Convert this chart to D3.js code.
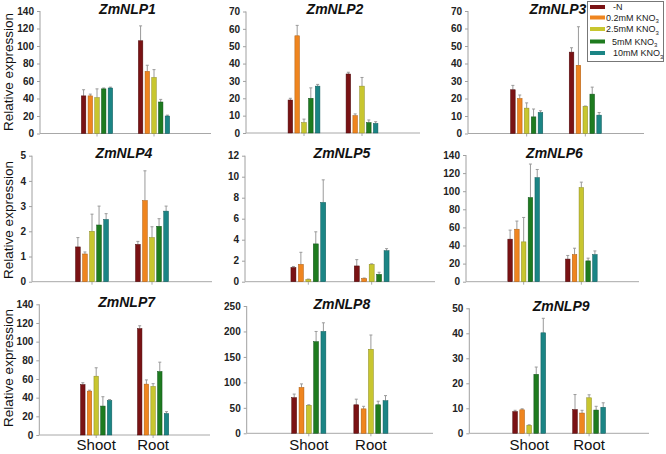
<!DOCTYPE html>
<html><head><meta charset="utf-8">
<script src="https://cdn.jsdelivr.net/npm/d3@7"></script>
<style>body{margin:0;background:#fff}svg{display:block}</style>
</head><body>
<svg id="c" width="666" height="454"></svg>
<script>
// ---- data ----
const categories = ["Shoot", "Root"];
const seriesNames = ["-N", "0.2mM KNO", "2.5mM KNO", "5mM KNO", "10mM KNO"];
const seriesSub = ["", "3", "3", "3", "3"];
const genes = ["ZmNLP1","ZmNLP2","ZmNLP3","ZmNLP4","ZmNLP5","ZmNLP6","ZmNLP7","ZmNLP8","ZmNLP9"];
const yMaxes = [140, 70, 70, 5, 12, 140, 140, 250, 50];
const ySteps = [20, 10, 10, 1, 2, 20, 20, 50, 10];
const shootMean = [
  [43, 43, 41, 51, 52],
  [19, 56, 6, 20, 27],
  [25, 20, 14.5, 9.5, 12],
  [1.38, 1.1, 2.0, 2.25, 2.47],
  [1.35, 1.65, 0.2, 3.6, 7.55],
  [47, 58, 44, 93, 115],
  [54, 47, 63, 31, 37],
  [70, 90, 55, 180, 200],
  [8.7, 9.4, 3.2, 23.6, 40.2]
];
const shootErr = [
  [7, 2, 10, 1, 1],
  [1, 6, 2, 6, 1],
  [2.5, 2, 3, 4.5, 1],
  [0.37, 0.08, 0.68, 0.75, 0.23],
  [0.1, 1.15, 0.05, 1.15, 2.15],
  [10, 9, 27, 37, 9],
  [2, 1, 9, 10, 1],
  [7, 7, 1, 20, 17],
  [0.5, 0.4, 0.2, 2.9, 5.8]
];
const rootMean = [
  [106, 71, 64, 36, 20],
  [34, 10, 27, 6, 5.5],
  [46.5, 39, 15.5, 22.5, 10.5],
  [1.48, 3.22, 1.75, 2.2, 2.8],
  [1.5, 0.3, 1.65, 0.7, 2.95],
  [25, 30, 104, 23, 30],
  [114, 54.5, 52, 68, 23],
  [56, 48, 165, 56, 64],
  [9.5, 8.1, 14.2, 9.3, 10.4]
];
const rootErr = [
  [17, 7, 9, 3, 1],
  [1, 1, 5, 1.5, 1],
  [2.5, 22, 0.2, 4, 1.5],
  [0.12, 1.18, 0.43, 0.3, 0.2],
  [0.6, 0.05, 0.05, 0.2, 0.2],
  [4, 7, 6, 3, 4],
  [3, 4.5, 3, 10, 2],
  [11, 5, 28, 7, 10],
  [6, 1.1, 1.2, 1.5, 1.8]
];
const colors = ["#7a1214", "#ef851f", "#c8c62f", "#1e7b1f", "#1b8585"];
const strokes = ["#4a0a0b", "#a95a10", "#8a8820", "#10501a", "#0f5858"];

// ---- layout (pixel boxes of plot areas) ----
const boxes = [
  {x0: 40, x1: 211, yT: 11, yB: 133.5},
  {x0: 246, x1: 420, yT: 11.5, yB: 133},
  {x0: 468, x1: 644, yT: 11, yB: 133.5},
  {x0: 32, x1: 212, yT: 155.7, yB: 281.7},
  {x0: 245, x1: 435, yT: 155.7, yB: 281.7},
  {x0: 466, x1: 639, yT: 155, yB: 281.7},
  {x0: 39.3, x1: 210, yT: 304.3, yB: 435},
  {x0: 246.7, x1: 433, yT: 306, yB: 433.3},
  {x0: 469.3, x1: 649, yT: 308.3, yB: 433.3}
];

const svg = d3.select("#c");
const font = "Arial, 'Liberation Sans', sans-serif";

genes.forEach((g, i) => {
  const b = boxes[i];
  const w = b.x1 - b.x0;
  const gP = svg.append("g");
  const y = d3.scaleLinear().domain([0, yMaxes[i]]).range([b.yB, b.yT]);
  const x = d3.scaleBand().domain(categories).range([b.x0, b.x1]).paddingInner(0).paddingOuter(0.5);
  const half = w * 0.098;
  const xs = d3.scaleBand().domain(d3.range(5)).range([-half, half]).paddingInner(0.33).paddingOuter(0.165);

  // y axis
  const ax = d3.axisLeft(y).tickValues(d3.range(0, yMaxes[i] + ySteps[i] / 2, ySteps[i]))
    .tickSize(3).tickPadding(3).tickFormat(d3.format("d"));
  const ya = gP.append("g").attr("transform", `translate(${b.x0},0)`).call(ax);
  ya.select(".domain").attr("stroke", "#a0a0a0").attr("d", `M-0.5,${b.yB}V${b.yT}`).attr("transform","translate(0.5,0)");
  ya.selectAll(".tick line").attr("stroke", "#a0a0a0");
  ya.selectAll(".tick text").attr("font-family", font).attr("font-size", 10)
    .attr("font-weight", "bold").attr("fill", "#222");

  // x axis
  const xa = gP.append("g").attr("transform", `translate(0,${b.yB})`)
    .call(d3.axisBottom(x).tickSize(3).tickFormat(""));
  xa.select(".domain").attr("stroke", "#a8a8a8").attr("d", `M${b.x0},0H${b.x1}`);
  xa.selectAll(".tick line").attr("stroke", "#a8a8a8");

  // bars
  const rows = [];
  categories.forEach((c, ci) => {
    const mean = ci === 0 ? shootMean[i] : rootMean[i];
    const err = ci === 0 ? shootErr[i] : rootErr[i];
    mean.forEach((v, si) => rows.push({c, si, v, e: err[si]}));
  });
  const cx = d => x(d.c) + x.bandwidth() / 2 + xs(d.si);
  // error bars
  const eg = gP.append("g").attr("stroke", "#9a9a9a").attr("stroke-width", 1);
  rows.forEach(d => {
    const xm = cx(d) + xs.bandwidth() / 2;
    eg.append("line").attr("x1", xm).attr("x2", xm).attr("y1", y(d.v)).attr("y2", y(d.v + d.e));
    eg.append("line").attr("x1", xm - 1.5).attr("x2", xm + 1.5).attr("y1", y(d.v + d.e)).attr("y2", y(d.v + d.e));
  });
  gP.append("g").selectAll("rect").data(rows).join("rect")
    .attr("x", d => cx(d)).attr("width", xs.bandwidth())
    .attr("y", d => y(d.v)).attr("height", d => b.yB - y(d.v))
    .attr("fill", d => colors[d.si]).attr("stroke", d => strokes[d.si]).attr("stroke-width", 0.5);

  // title
  gP.append("text").attr("x", (b.x0 + b.x1) / 2 + 2).attr("y", b.yT + 2.5)
    .attr("text-anchor", "middle").attr("font-family", font).attr("font-size", 14)
    .attr("font-weight", "bold").attr("font-style", "italic").attr("fill", "#111").text(g);

  // category labels in bottom row
  if (i >= 6) {
    categories.forEach(c => {
      gP.append("text").attr("x", x(c) + x.bandwidth() / 2).attr("y", 450)
        .attr("text-anchor", "middle").attr("font-family", font).attr("font-size", 15)
        .attr("fill", "#111").text(c);
    });
  }
});

// y labels
[72, 220, 368].forEach(cy => {
  svg.append("text").attr("transform", `translate(12.5,${cy}) rotate(-90)`)
    .attr("text-anchor", "middle").attr("font-family", font).attr("font-size", 13.5)
    .attr("fill", "#111").text("Relative expression");
});

// legend
const lg = svg.append("g");
lg.append("rect").attr("x", 587.5).attr("y", 1.5).attr("width", 76).attr("height", 60)
  .attr("fill", "#fff").attr("stroke", "#777").attr("stroke-width", 1);
const legY = [7, 17.5, 29, 41.5, 53];
const legTx = [613, 606, 606, 612, 613];
seriesNames.forEach((s, si) => {
  lg.append("rect").attr("x", 590).attr("y", legY[si] - 2).attr("width", 15).attr("height", 4)
    .attr("fill", colors[si]);
  const t = lg.append("text").attr("x", legTx[si]).attr("y", legY[si] + 3.3)
    .attr("font-family", font).attr("font-size", 9).attr("fill", "#222");
  t.append("tspan").text(s);
  if (seriesSub[si]) t.append("tspan").attr("font-size", 6).attr("dy", 2.2).text(seriesSub[si]);
});
</script>
</body></html>
